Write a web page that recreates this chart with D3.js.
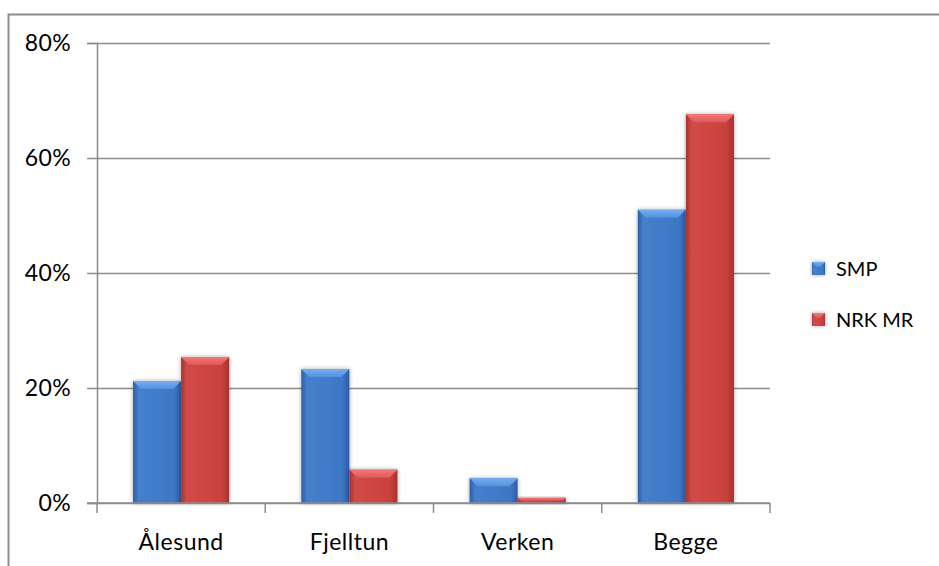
<!DOCTYPE html>
<html><head><meta charset="utf-8">
<script src="https://cdn.jsdelivr.net/npm/d3@7"></script>
<style>body{margin:0;background:#fff}svg{display:block}text{font-family:Lato,"Open Sans",sans-serif;fill:#000}</style>
</head><body>
<svg id="c" width="939" height="566"></svg>
<script>
const categories = ["Ålesund", "Fjelltun", "Verken", "Begge"];
const seriesNames = ["SMP", "NRK MR"];
const smp = [21.2, 23.3, 4.3, 51.0];
const nrk = [25.4, 5.8, 0.9, 67.6];
const yTicks = [0, 20, 40, 60, 80];

const svg = d3.select("#c");
const W = 939, H = 566;
const m = {left: 97, right: 770, top: 43, bottom: 503};

// outer frame
svg.append("path").attr("d", `M8.5,${H} L8.5,14.5 L${W},14.5`).attr("fill","none").attr("stroke","#8c8c8c").attr("stroke-width",2);

const x = d3.scaleBand().domain(categories).range([m.left, m.right]).paddingInner(0).paddingOuter(0);
const y = d3.scaleLinear().domain([0, 80]).range([m.bottom, m.top]);

// gridlines
const gy = d3.axisLeft(y).tickValues(yTicks).tickSize(-(m.right - m.left)).tickFormat("");
svg.append("g").attr("transform",`translate(${m.left},0)`).call(gy)
  .call(g=>{g.select(".domain").remove();g.selectAll("line").attr("stroke","#8c8c8c").attr("stroke-width",1.5);});

// y axis
const ya = d3.axisLeft(y).tickValues(yTicks).tickSize(10).tickPadding(16).tickFormat(d=>d+"%");
svg.append("g").attr("transform",`translate(${m.left},0)`).call(ya)
  .call(g=>{g.select(".domain").attr("stroke","#8c8c8c").attr("stroke-width",1.5);
    g.selectAll("line").attr("stroke","#8c8c8c").attr("stroke-width",1.5);
    g.selectAll("text").style("font-size","23px").style("letter-spacing","0.4px").attr("fill","#000");});

const defs = svg.append("defs");
const pal = {
  "SMP": {body:["#4580cc","#3d77c6","#2d5ea6"], top:["#76adf0","#5290de"]},
  "NRK MR": {body:["#d24a47","#c9413e","#a53230"], top:["#f27a77","#df5856"]}
};
seriesNames.forEach((s,i)=>{
  const p = pal[s];
  const g = defs.append("linearGradient").attr("id","b"+i).attr("x1","0").attr("x2","1").attr("y1","0").attr("y2","0");
  g.append("stop").attr("offset","0").attr("stop-color",p.body[2]);
  g.append("stop").attr("offset","0.12").attr("stop-color",p.body[0]);
  g.append("stop").attr("offset","0.85").attr("stop-color",p.body[1]);
  g.append("stop").attr("offset","1").attr("stop-color",p.body[2]);
  const t = defs.append("linearGradient").attr("id","t"+i).attr("x1","0").attr("x2","0").attr("y1","0").attr("y2","1");
  t.append("stop").attr("offset","0").attr("stop-color",p.top[0]);
  t.append("stop").attr("offset","1").attr("stop-color",p.top[1]);
});
const f = defs.append("filter").attr("id","sh").attr("x","-20%").attr("y","-20%").attr("width","140%").attr("height","140%");
f.append("feDropShadow").attr("dx",0).attr("dy",0).attr("stdDeviation",2).attr("flood-color","#000").attr("flood-opacity",0.35);

const bw = x.bandwidth()/3.5;
const data = [];
categories.forEach((c,ci)=>{
  [smp, nrk].forEach((arr,si)=>{
    data.push({c, si, v: arr[ci]});
  });
});
const bars = svg.append("g").selectAll("g").data(data).join("g");
bars.each(function(d){
  const g = d3.select(this);
  const x0 = x(d.c) + x.bandwidth()/2 - bw + d.si*bw;
  const y0 = y(d.v), h = y(0) - y(d.v);
  g.append("rect").attr("x",x0).attr("y",y0).attr("width",bw).attr("height",h)
    .attr("fill",`url(#b${d.si})`).attr("filter","url(#sh)");
  const bv = Math.min(8, h/2);
  g.append("path").attr("d",`M${x0},${y0} L${x0+bw},${y0} L${x0+bw-bv},${y0+bv} L${x0+bv},${y0+bv} Z`)
    .attr("fill",`url(#t${d.si})`);
});

// x axis
const xa = d3.axisBottom(x).tickSize(0).tickPadding(31);
svg.append("g").attr("transform",`translate(0,${m.bottom})`).call(xa)
  .call(g=>{g.select(".domain").remove();g.selectAll("text").style("font-size","23px").style("letter-spacing","0.5px").attr("fill","#000");});
svg.append("line").attr("x1",m.left-10).attr("x2",m.right).attr("y1",m.bottom).attr("y2",m.bottom).attr("stroke","#8c8c8c").attr("stroke-width",1.5);
const tickX = categories.map(c=>x(c)).concat([m.right]);
svg.append("g").selectAll("line").data(tickX).join("line")
  .attr("x1",d=>d).attr("x2",d=>d).attr("y1",m.bottom).attr("y2",m.bottom+10).attr("stroke","#8c8c8c").attr("stroke-width",1.5);

// legend
const lg = svg.append("g");
seriesNames.forEach((s,i)=>{
  const ly = 262 + i*51;
  lg.append("rect").attr("x",812).attr("y",ly).attr("width",13).attr("height",13).attr("fill",`url(#b${i})`).attr("filter","url(#sh)");
  lg.append("path").attr("d",`M812,${ly} L825,${ly} L820,${ly+5} L817,${ly+5} Z`).attr("fill",`url(#t${i})`);
  lg.append("text").attr("x",836).attr("y",ly+7).attr("dy","0.35em").style("font-size","20px").text(s);
});
</script>
</body></html>
